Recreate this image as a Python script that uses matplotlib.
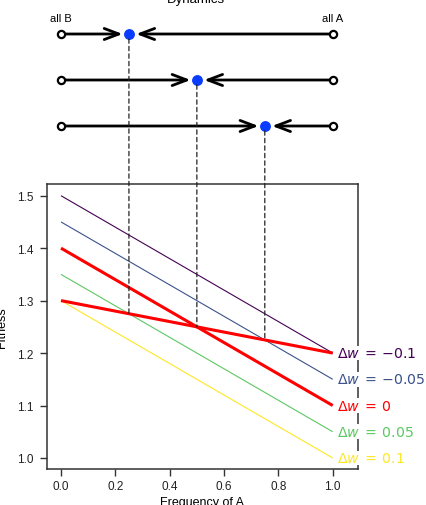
import numpy as np
import matplotlib
matplotlib.use("Agg")
import matplotlib.pyplot as plt
from matplotlib.patches import ConnectionPatch

plt.rcParams['font.family'] = ['Liberation Sans', 'DejaVu Sans']
plt.rcParams['mathtext.fontset'] = 'dejavusans'

# ---- data ----
freq_ends = [0.0, 1.0]
delta_w = [-0.1, -0.05, 0.0, 0.05, 0.1]
a_fit_at0 = [1.5, 1.45, 1.4, 1.35, 1.3]
a_fit_at1 = [1.2, 1.15, 1.1, 1.05, 1.0]
b_fit = [1.3, 1.2]
line_colors = ['#440154', '#3B528B', '#FF0000', '#5DC863', '#FDE725']
labels = [r'$\Delta w\:=\:{-0.1}$', r'$\Delta w\:=\:{-0.05}$', r'$\Delta w\:=\:0$',
          r'$\Delta w\:=\:0.05$', r'$\Delta w\:=\:0.1$']
eq_freq = [0.25, 0.5, 0.75]          # equilibria for dynamics rows
xticks = [0.0, 0.2, 0.4, 0.6, 0.8, 1.0]
yticks = [1.0, 1.1, 1.2, 1.3, 1.4, 1.5]

W, H = 426, 506
fig = plt.figure(figsize=(W / 100, H / 100), dpi=100)

# main axes in pixel layout
L, R, T, B = 47, 358, 185, 470
ax = fig.add_axes([L / W, 1 - B / H, (R - L) / W, (B - T) / H])
xlim = (-0.0515, 1.093)
ax.set_xlim(*xlim)
ax.set_ylim(0.979, 1.5223)

for i, dw in enumerate(delta_w):
    thick = dw == 0
    ax.plot(freq_ends, [a_fit_at0[i], a_fit_at1[i]], color=line_colors[i],
            lw=2.2 if thick else 0.8, zorder=3 if thick else 2,
            solid_capstyle='butt')
    ax.text(1.016, a_fit_at1[i], labels[i], color=line_colors[i], fontsize=10.2,
            va='center', ha='left', zorder=5, clip_on=False,
            bbox=dict(facecolor='white', edgecolor='none', pad=0.3))
ax.plot(freq_ends, b_fit, color='#FF0000', lw=2.2, zorder=3, solid_capstyle='butt')

ax.set_xticks(xticks)
ax.set_xticklabels([f'{v:.1f}' for v in xticks])
ax.set_yticks(yticks)
ax.set_yticklabels([f'{v:.1f}' for v in yticks])
ax.tick_params(direction='out', length=5, width=1, colors='#333333',
               labelcolor='#222222', labelsize=8.5)
ax.tick_params(axis='y', pad=5)
ax.tick_params(axis='x', pad=3)
for s in ax.spines.values():
    s.set_color('#333333')
    s.set_linewidth(1.1)
    s.set_zorder(4)
ax.set_xlabel('Frequency of A', fontsize=9, labelpad=3)
ax.set_ylabel('Fitness', fontsize=9, labelpad=6)

# dynamics panel
axt = fig.add_axes([L / W, 1 - T / H, (R - L) / W, T / H])
axt.set_xlim(*xlim)
# rows: y=3 at 35px, y=1 at 127px -> 46 px per unit
axt.set_ylim(1 - (185 - 127) / 46, 3 + 35 / 46)
axt.axis('off')
rows_y = [3, 2, 1]
for ry, xe in zip(rows_y, eq_freq):
    ap = dict(arrowstyle='->,head_length=1.05,head_width=0.4', lw=2,
              color='black', shrinkA=0, shrinkB=4.5)
    axt.annotate('', xy=(xe, ry), xytext=(freq_ends[0], ry), arrowprops=ap)
    ap2 = dict(ap, shrinkB=5.2)
    axt.annotate('', xy=(xe, ry), xytext=(freq_ends[1], ry), arrowprops=ap2)
    axt.plot(freq_ends, [ry, ry], 'o', ms=5.2, mfc='white', mec='black',
             mew=1.6, zorder=5)
    axt.plot([xe], [ry], 'o', ms=6.8, color='#0A3CFF', zorder=6)
    y_int = np.interp(xe, freq_ends, b_fit)
    con = ConnectionPatch(xyA=(xe, ry), coordsA=axt.transData,
                          xyB=(xe, y_int), coordsB=ax.transData,
                          linestyle=(0, (3.5, 2.5)), lw=0.9, color='#222222',
                          shrinkA=3.5, shrinkB=0)
    fig.add_artist(con)

axt.text(freq_ends[0], 3 + 16 / 46, 'all B', ha='center', va='center', fontsize=8)
axt.text(freq_ends[1], 3 + 16 / 46, 'all A', ha='center', va='center', fontsize=8)
fig.text(196 / W, 1 - 3 / H, 'Dynamics', ha='center', va='baseline', fontsize=9.5)

fig.savefig('out.png', dpi=100)
